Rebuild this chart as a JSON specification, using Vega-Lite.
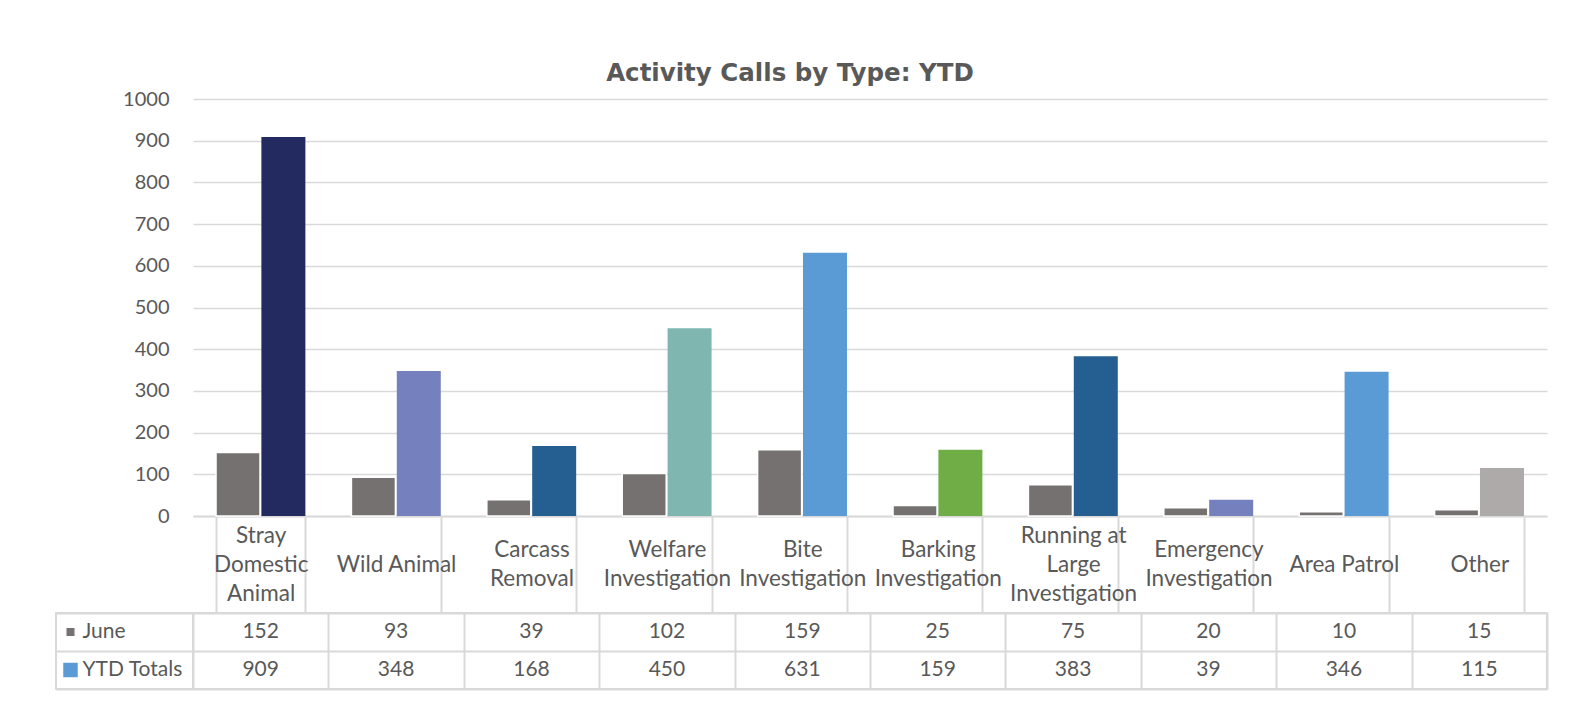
{
  "$schema": "https://vega.github.io/schema/vega-lite/v6.json",
  "padding": {"left": 55, "top": 60, "right": 37, "bottom": 16},
  "background": "white",
  "datasets": {
    "calls": [
      {"category": "Stray Domestic Animal", "series": "June", "value": 152},
      {"category": "Stray Domestic Animal", "series": "YTD Totals", "value": 909},
      {"category": "Wild Animal", "series": "June", "value": 93},
      {"category": "Wild Animal", "series": "YTD Totals", "value": 348},
      {"category": "Carcass Removal", "series": "June", "value": 39},
      {"category": "Carcass Removal", "series": "YTD Totals", "value": 168},
      {"category": "Welfare Investigation", "series": "June", "value": 102},
      {"category": "Welfare Investigation", "series": "YTD Totals", "value": 450},
      {"category": "Bite Investigation", "series": "June", "value": 159},
      {"category": "Bite Investigation", "series": "YTD Totals", "value": 631},
      {"category": "Barking Investigation", "series": "June", "value": 25},
      {"category": "Barking Investigation", "series": "YTD Totals", "value": 159},
      {"category": "Running at Large Investigation", "series": "June", "value": 75},
      {"category": "Running at Large Investigation", "series": "YTD Totals", "value": 383},
      {"category": "Emergency Investigation", "series": "June", "value": 20},
      {"category": "Emergency Investigation", "series": "YTD Totals", "value": 39},
      {"category": "Area Patrol", "series": "June", "value": 10},
      {"category": "Area Patrol", "series": "YTD Totals", "value": 346},
      {"category": "Other", "series": "June", "value": 15},
      {"category": "Other", "series": "YTD Totals", "value": 115}
    ]
  },
  "columns": 2,
  "spacing": {"row": 97, "column": 0},
  "bounds": "flush",
  "concat": [
    {
      "width": 137,
      "height": 417,
      "data": {"name": "calls"},
      "transform": [{"aggregate": [{"op": "count", "as": "n"}]}],
      "mark": {"type": "rect", "opacity": 0},
      "encoding": {}
    },
    {
      "width": 1354,
      "height": 417,
      "title": {
        "text": "Activity Calls by Type: YTD",
        "font": "DejaVu Sans",
        "fontSize": 24.5,
        "fontWeight": "bold",
        "color": "#595959",
        "anchor": "middle",
        "frame": "group",
        "orient": "top",
        "baseline": "alphabetic",
        "offset": -16,
        "dx": -80
      },
      "data": {"name": "calls"},
      "transform": [{"calculate": "datum.series === 'June' ? 'June' : datum.category", "as": "colorKey"}],
      "mark": {"type": "bar", "stroke": "#FFFFFF"},
      "encoding": {
        "x": {
          "field": "category",
          "type": "nominal",
          "sort": ["Stray Domestic Animal", "Wild Animal", "Carcass Removal", "Welfare Investigation", "Bite Investigation", "Barking Investigation", "Running at Large Investigation", "Emergency Investigation", "Area Patrol", "Other"],
          "scale": {"paddingInner": 0.34, "paddingOuter": 0.17},
          "axis": {
            "title": null,
            "orient": "bottom",
            "domain": true,
            "domainColor": "#D9D9D9",
            "domainWidth": 2,
            "ticks": true,
            "tickBand": "extent",
            "tickSize": 97,
            "tickColor": "#D9D9D9",
            "tickWidth": 2,
            "grid": false,
            "labelAngle": 0,
            "labelFont": "Lato",
            "labelFontSize": 22.5,
            "labelColor": "#595959",
            "labelBaseline": "middle",
            "labelAlign": "center",
            "labelLineHeight": 29,
            "labelPadding": {
              "condition": [
                {"test": "datum.label == 'Stray Domestic Animal' || datum.label == 'Running at Large Investigation'", "value": -78},
                {"test": "datum.label == 'Wild Animal' || datum.label == 'Area Patrol' || datum.label == 'Other'", "value": -49}
              ],
              "value": -63.5
            },
            "labelLimit": 300,
            "labelOverlap": false,
            "labelExpr": "({'Stray Domestic Animal': ['Stray', 'Domestic', 'Animal'], 'Carcass Removal': ['Carcass', 'Removal'], 'Welfare Investigation': ['Welfare', 'Investigation'], 'Bite Investigation': ['Bite', 'Investigation'], 'Barking Investigation': ['Barking', 'Investigation'], 'Running at Large Investigation': ['Running at', 'Large', 'Investigation'], 'Emergency Investigation': ['Emergency', 'Investigation']})[datum.label] || datum.label"
          }
        },
        "xOffset": {
          "field": "series",
          "type": "nominal",
          "sort": ["June", "YTD Totals"],
          "scale": {"paddingInner": 0.03, "paddingOuter": 0}
        },
        "y": {
          "field": "value",
          "type": "quantitative",
          "scale": {"domain": [0, 1000], "nice": false},
          "axis": {
            "title": null,
            "values": [0, 100, 200, 300, 400, 500, 600, 700, 800, 900, 1000],
            "format": "d",
            "domain": false,
            "ticks": false,
            "grid": true,
            "gridColor": "#D9D9D9",
            "gridWidth": 1.5,
            "labelFont": "Lato",
            "labelFontSize": 20,
            "labelColor": "#595959",
            "labelPadding": 24
          }
        },
        "color": {
          "field": "colorKey",
          "type": "nominal",
          "scale": {
            "domain": ["June", "Stray Domestic Animal", "Wild Animal", "Carcass Removal", "Welfare Investigation", "Bite Investigation", "Barking Investigation", "Running at Large Investigation", "Emergency Investigation", "Area Patrol", "Other"],
            "range": ["#767171", "#222A5F", "#7580BE", "#255E91", "#7FB7B0", "#5B9BD5", "#70AD47", "#255E91", "#7580BE", "#5B9BD5", "#AEAAAA"]
          },
          "legend": null
        },
        "strokeWidth": {"condition": {"test": "datum.series === 'June'", "value": 1.5}, "value": 0}
      }
    },
    {
      "width": 137,
      "height": 76,
      "data": {"name": "calls"},
      "transform": [{"aggregate": [{"op": "count", "as": "n"}], "groupby": ["series"]}],
      "view": {"stroke": "#D9D9D9", "strokeWidth": 2},
      "encoding": {
        "y": {
          "field": "series",
          "type": "nominal",
          "sort": ["June", "YTD Totals"],
          "scale": {"paddingInner": 0, "paddingOuter": 0},
          "axis": {"title": null, "labels": false, "ticks": false, "domain": false, "grid": true, "gridColor": "#D9D9D9", "gridWidth": 2, "tickBand": "extent"}
        }
      },
      "layer": [
        {
          "mark": {"type": "point", "shape": "square", "filled": true, "opacity": 1, "xOffset": -54},
          "encoding": {
            "color": {"condition": {"test": "datum.series === 'June'", "value": "#767171"}, "value": "#5B9BD5"},
            "size": {"condition": {"test": "datum.series === 'June'", "value": 64}, "value": 210}
          }
        },
        {
          "mark": {"type": "text", "align": "left", "baseline": "middle", "dx": -42, "font": "Lato", "fontSize": 21, "color": "#595959"},
          "encoding": {"text": {"field": "series", "type": "nominal"}}
        }
      ]
    },
    {
      "width": 1354,
      "height": 76,
      "data": {"name": "calls"},
      "view": {"stroke": "#D9D9D9", "strokeWidth": 2},
      "mark": {"type": "text", "font": "Lato", "fontSize": 21, "color": "#595959", "baseline": "middle"},
      "encoding": {
        "x": {
          "field": "category",
          "type": "nominal",
          "sort": ["Stray Domestic Animal", "Wild Animal", "Carcass Removal", "Welfare Investigation", "Bite Investigation", "Barking Investigation", "Running at Large Investigation", "Emergency Investigation", "Area Patrol", "Other"],
          "scale": {"paddingInner": 0, "paddingOuter": 0},
          "axis": {"title": null, "labels": false, "ticks": false, "domain": false, "grid": true, "gridColor": "#D9D9D9", "gridWidth": 2, "tickBand": "extent"}
        },
        "y": {
          "field": "series",
          "type": "nominal",
          "sort": ["June", "YTD Totals"],
          "scale": {"paddingInner": 0, "paddingOuter": 0},
          "axis": {"title": null, "labels": false, "ticks": false, "domain": false, "grid": true, "gridColor": "#D9D9D9", "gridWidth": 2, "tickBand": "extent"}
        },
        "text": {"field": "value", "type": "quantitative"}
      }
    }
  ],
  "config": {
    "view": {"stroke": null},
    "font": "Lato"
  }
}
